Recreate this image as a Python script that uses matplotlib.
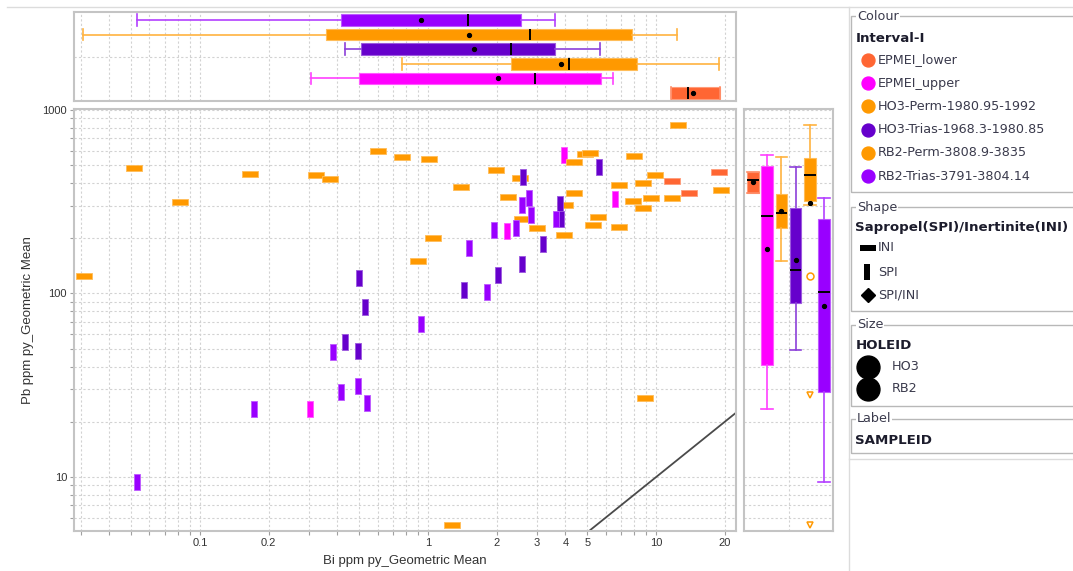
import numpy as np
import matplotlib.pyplot as plt
from matplotlib.path import Path
from matplotlib.patches import Rectangle
from matplotlib.lines import Line2D
from matplotlib.ticker import LogLocator, FuncFormatter, NullLocator

plt.rcParams['font.family'] = ['Liberation Sans', 'DejaVu Sans']

W, H = 1073, 571

groups = ['EPMEI_lower', 'EPMEI_upper', 'HO3-Perm-1980.95-1992',
          'HO3-Trias-1968.3-1980.85', 'RB2-Perm-3808.9-3835', 'RB2-Trias-3791-3804.14']
colors = ['#ff6633', '#ff00ff', '#ff9900', '#6600cc', '#ff9900', '#9900ff']
group_shape = ['INI', 'SPI', 'INI', 'SPI', 'INI', 'SPI']

# Bi / Pb geometric means (ppm) per sample
lower_bi = [11.7, 13.9, 18.8]
lower_pb = [410, 352, 459]

upper_bi = [0.304, 2.21, 3.94, 6.57]
upper_pb = [23.5, 219, 566, 326]

ho3_perm_bi = [0.767, 1.055, 0.90, 2.53, 2.23, 2.58, 3.0, 3.96, 4.0, 4.38, 5.58, 5.27,
               6.88, 7.88, 8.80, 8.80, 9.50, 11.7, 19.3]
ho3_perm_pb = [557, 200, 151, 425, 336, 254, 228, 207, 302, 352, 262, 236,
               231, 320, 402, 292, 333, 333, 366]

ho3_trias_bi = [0.50, 0.53, 0.43, 0.495, 2.62, 3.19, 2.58, 2.03, 1.44, 3.77, 3.83, 5.64]
ho3_trias_pb = [121, 84.7, 54.6, 48.8, 430, 186, 145, 126, 104, 307, 255, 491]

rb2_perm_bi = [0.031, 0.0515, 0.0817, 0.166, 0.323, 0.372, 0.605, 1.01, 1.40, 1.98,
               4.37, 4.88, 5.13, 6.84, 7.96, 9.84, 12.5, 8.98, 1.27]
rb2_perm_pb = [125, 485, 316, 450, 441, 419, 600, 543, 382, 473,
               523, 576, 585, 390, 561, 441, 825, 27.1, 5.45]

rb2_trias_bi = [0.0527, 0.173, 0.382, 0.415, 0.495, 0.538, 0.93, 1.51, 1.81, 1.95,
                2.42, 2.57, 2.77, 2.83, 3.64]
rb2_trias_pb = [9.35, 23.5, 48.2, 29.0, 31.3, 25.2, 68, 176, 102, 222,
                226, 304, 330, 269, 255]

bi_values = [lower_bi, upper_bi, ho3_perm_bi, ho3_trias_bi, rb2_perm_bi, rb2_trias_bi]
pb_values = [lower_pb, upper_pb, ho3_perm_pb, ho3_trias_pb, rb2_perm_pb, rb2_trias_pb]

# box summaries (Bi on top panel, Pb on side panel)
bi_whislo = [11.6, 0.307, 0.769, 0.432, 0.0307, 0.053]
bi_q1 = [11.6, 0.498, 2.31, 0.508, 0.357, 0.415]
bi_med = [13.8, 2.95, 4.15, 2.31, 2.80, 1.50]
bi_q3 = [19.1, 5.74, 8.26, 3.61, 7.85, 2.56]
bi_whishi = [19.1, 6.48, 18.9, 5.68, 12.4, 3.61]
bi_mean = [14.5, 2.03, 3.83, 1.59, 1.51, 0.93]

pb_whislo = [352, 23.6, 150, 49, 303, 9.4]
pb_q1 = [352, 40.8, 228, 89, 318, 29]
pb_med = [414, 264, 275, 135, 441, 101.5]
pb_q3 = [461, 493, 348, 294, 550, 256]
pb_whishi = [461, 566, 557, 491, 832, 330]
pb_mean = [407, 175, 282, 152, 312, 85.8]
pb_outliers = [[], [], [], [], [124], []]
pb_far_out = [[], [], [], [], [27.9, 5.5], []]

x_labels = [0.1, 0.2, 1, 2, 3, 4, 5, 10, 20]
y_labels = [10, 100, 1000]
ref_line = [1, 100]

grid_kw = dict(ls=(0, (2, 2)), color='#d2d2d2', lw=0.8)
spine_color = '#c4c4c4'


def box(l, t, r, b):
    return [l / W, 1 - b / H, (r - l) / W, (b - t) / H]


def fx(x):
    return x / W


def fy(y):
    return 1 - y / H


def lighten(c, f=0.45):
    rgb = np.array(plt.matplotlib.colors.to_rgb(c))
    return tuple(rgb + (1 - rgb) * f)


fig = plt.figure(figsize=(W / 100, H / 100), dpi=100)
ax = fig.add_axes(box(74, 109, 736, 531))
ax_top = fig.add_axes(box(74, 12, 736, 101), sharex=ax)
ax_right = fig.add_axes(box(744, 109, 833, 531), sharey=ax)

ax.set_xscale('log')
ax.set_yscale('log')
ax.set_xlim(0.0280, 22.4)
ax.set_ylim(5.08, 1012)

for a in (ax, ax_top, ax_right):
    for s in a.spines.values():
        s.set_color(spine_color)
        s.set_linewidth(1.5)
    a.set_axisbelow(True)

# ticks on every 1..9 multiple, labels only on selected ones
ax.xaxis.set_major_locator(LogLocator(base=10, subs=np.arange(1, 10), numticks=60))
ax.xaxis.set_minor_locator(NullLocator())
ax.yaxis.set_major_locator(LogLocator(base=10, subs=np.arange(1, 10), numticks=60))
ax.yaxis.set_minor_locator(NullLocator())
ax.xaxis.set_major_formatter(FuncFormatter(
    lambda v, p: ('%g' % v) if np.any(np.isclose(v, x_labels)) else ''))
ax.yaxis.set_major_formatter(FuncFormatter(
    lambda v, p: ('%g' % v) if np.any(np.isclose(v, y_labels)) else ''))
ax.tick_params(which='both', direction='out', length=3, width=0.8, color='#a0a0a0',
               labelsize=8, labelcolor='#333333', pad=2)
ax.grid(True, **grid_kw)

# 1:1 reference line
ax.plot(ref_line, ref_line, color='#4a4a4a', lw=1.3, zorder=2)

# markers: horizontal bar for INI, vertical bar for SPI
hbar = Path([(-1, -0.36), (1, -0.36), (1, 0.36), (-1, 0.36), (-1, -0.36)], closed=True)
vbar = Path([(-0.36, -1), (0.36, -1), (0.36, 1), (-0.36, 1), (-0.36, -1)], closed=True)
shape_marker = {'INI': hbar, 'SPI': vbar}

for bi, pb, c, sh in zip(bi_values, pb_values, colors, group_shape):
    ax.plot(bi, pb, ls='none', marker=shape_marker[sh], ms=11.5, mfc=c,
            mec=lighten(c, 0.35), mew=0.6, zorder=3)


def draw_boxes(a, orient, whislo, q1, med, q3, whishi, mean, fliers):
    stats = []
    for i in range(len(groups)):
        stats.append(dict(whislo=whislo[i], q1=q1[i], med=med[i], q3=q3[i],
                          whishi=whishi[i], mean=mean[i], fliers=fliers[i]))
    parts = a.bxp(stats, positions=range(len(groups)), widths=0.8, capwidths=0.8,
                  orientation=orient, patch_artist=True, showmeans=True,
                  manage_ticks=False,
                  medianprops=dict(color='black', lw=1.4),
                  meanprops=dict(marker='o', markerfacecolor='black',
                                 markeredgecolor='black', markersize=2.8),
                  flierprops=dict(marker='o', markerfacecolor='none', markersize=5,
                                  markeredgewidth=1.1))
    for i, c in enumerate(colors):
        parts['boxes'][i].set_facecolor(c)
        parts['boxes'][i].set_edgecolor(lighten(c, 0.35))
        parts['boxes'][i].set_linewidth(0.8)
        for k in (2 * i, 2 * i + 1):
            parts['whiskers'][k].set_color(lighten(c, 0.25))
            parts['whiskers'][k].set_linewidth(1.2)
            parts['caps'][k].set_color(lighten(c, 0.25))
            parts['caps'][k].set_linewidth(1.2)
        parts['fliers'][i].set_markeredgecolor(c)
    return parts


# top panel: Bi distribution per interval
draw_boxes(ax_top, 'horizontal', bi_whislo, bi_q1, bi_med, bi_q3, bi_whishi, bi_mean,
           [[] for _ in groups])
ax_top.set_ylim(-0.55, 5.55)
ax_top.set_yticks([])
ax_top.tick_params(axis='x', which='both', length=0, labelbottom=False)
ax_top.grid(True, axis='x', **grid_kw)
ax_top.axhline(2.5, zorder=0, **grid_kw)

# side panel: Pb distribution per interval
draw_boxes(ax_right, 'vertical', pb_whislo, pb_q1, pb_med, pb_q3, pb_whishi, pb_mean,
           pb_outliers)
for i, vals in enumerate(pb_far_out):
    if vals:
        ax_right.plot([i] * len(vals), vals, ls='none', marker='v', ms=5,
                      mfc='none', mec=colors[i], mew=1.1)
ax_right.set_xlim(-0.63, 5.63)
ax_right.set_xticks([])
ax_right.tick_params(axis='y', which='both', length=0, labelleft=False)
ax_right.grid(True, axis='y', **grid_kw)
ax_right.axvline(2.5, zorder=0, **grid_kw)

# axis titles
fig.text(fx(405), fy(561), 'Bi ppm py_Geometric Mean', ha='center', va='center',
         fontsize=9.5, color='#333333')
fig.text(fx(28), fy(320), 'Pb ppm py_Geometric Mean', ha='center', va='center',
         rotation=90, fontsize=9.5, color='#333333')

# separator lines
fig.add_artist(Line2D([fx(7), 1], [fy(6.7), fy(6.7)], color='#dcdcdc', lw=1))
fig.add_artist(Line2D([fx(849), fx(849)], [fy(6.7), 0], color='#dcdcdc', lw=1))
fig.add_artist(Line2D([fx(849), 1], [fy(459), fy(459)], color='#dcdcdc', lw=1))

# legend column
leg_font = ['DejaVu Sans']
txt_color = '#3a3a4c'
head_color = '#1c1c2c'
fs_item = 9.2
fs_head = 9.6


def frame(top, bottom, title):
    fig.add_artist(Rectangle((fx(851), fy(bottom)), fx(1090) - fx(851), (bottom - top) / H,
                             transform=fig.transFigure, fill=False, ec='#b8b8b8', lw=1))
    fig.text(fx(857), fy(top), title, va='center', ha='left', fontsize=fs_item,
             family=leg_font, color=txt_color,
             bbox=dict(facecolor='white', edgecolor='none', pad=0.6))


def head(y, s):
    fig.text(fx(855.5), fy(y), s, va='center', ha='left', fontsize=fs_head,
             family=leg_font, fontweight='bold', color=head_color)


def item(y, s, x=878):
    fig.text(fx(x), fy(y), s, va='center', ha='left', fontsize=fs_item,
             family=leg_font, color=txt_color)


def swatch(x, y, **kw):
    fig.add_artist(Line2D([fx(x)], [fy(y)], ls='none', transform=fig.transFigure, **kw))


frame(16, 191.7, 'Colour')
head(39, 'Interval-I')
for i, (g, c) in enumerate(zip(groups, colors)):
    y = 60 + i * 23.2
    swatch(867.5, y, marker='o', ms=9.3, mfc=c, mec=c)
    item(y, g)

frame(207, 310.7, 'Shape')
head(228, 'Sapropel(SPI)/Inertinite(INI)')
swatch(867.5, 248, marker=hbar, ms=11, mfc='black', mec='black', mew=0)
item(248, 'INI')
swatch(866.5, 272, marker=vbar, ms=11, mfc='black', mec='black', mew=0)
item(272, 'SPI')
swatch(867.5, 295, marker='D', ms=7, mfc='black', mec='black')
item(295, 'SPI/INI')

frame(325, 406, 'Size')
head(345.7, 'HOLEID')
for y, s in ((366.7, 'HO3'), (389, 'RB2')):
    swatch(867.5, y, marker='o', ms=16.5, mfc='black', mec='black')
    item(y, s, x=891.5)

frame(419, 452.7, 'Label')
head(441, 'SAMPLEID')

fig.savefig('out.png', dpi=100)
